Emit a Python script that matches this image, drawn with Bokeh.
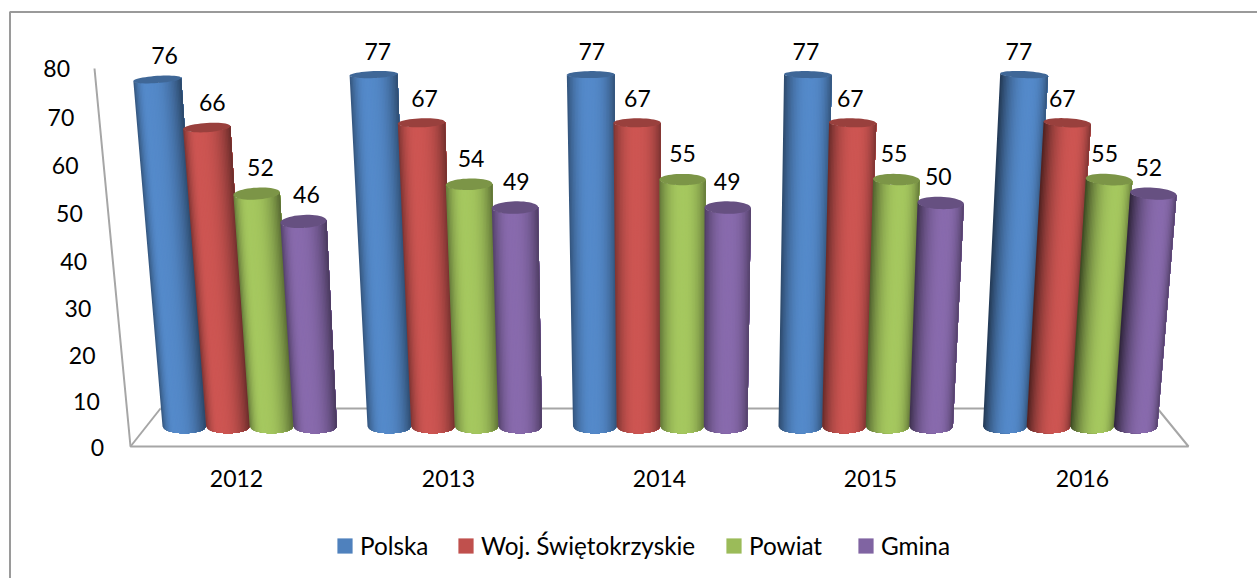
import math
from bokeh.embed import file_html
from bokeh.resources import INLINE
from bokeh.plotting import figure
from bokeh.models import ColumnDataSource, Range1d, Legend, LegendItem
from bokeh.core.properties import value

years = ["2012", "2013", "2014", "2015", "2016"]
series_names = ["Polska", "Woj. Świętokrzyskie", "Powiat", "Gmina"]
polska = [76, 77, 77, 77, 77]
woj = [66, 67, 67, 67, 67]
powiat = [52, 54, 55, 55, 55]
gmina = [46, 49, 49, 50, 52]
ticks = [0, 10, 20, 30, 40, 50, 60, 70, 80]
colors = ["#4f81bd", "#c0504d", "#9bbb59", "#8064a2"]

FONT = "Lato"
FS = "23px"
TXT = "#000000"
GRAY = "#a6a6a6"

# projection of the pseudo 3-D chart box (depth perspective)
X0 = 665.0
BASE_Y = 426.0
group_left = [162, 367, 572.5, 778, 982.5]
BAR_W = 43.6


def height(v):
    return 4.3 * v / (1 - 0.000767 * v)


def shade(hex_c, k):
    r, g, b = (int(hex_c[i:i + 2], 16) for i in (1, 3, 5))
    r, g, b = (min(255, int(c * k)) for c in (r, g, b))
    return f"#{r:02x}{g:02x}{b:02x}"


p = figure(width=1257, height=578, output_backend="svg", toolbar_location=None,
           x_range=Range1d(0, 1257), y_range=Range1d(578, 0),
           x_axis_location=None, y_axis_location=None, min_border=0,
           outline_line_color=None)
p.grid.visible = False

# chart frame (left and top edges)
p.line([9.5, 9.5, 1257], [578, 11.5, 11.5], line_color="#9a9a9a", line_width=2)

# floor and slanted value axis
p.line([94, 130, 1188, 1157, 160], [68, 446, 446, 408, 408], line_color=GRAY, line_width=2)
p.line([130, 160], [446, 408], line_color=GRAY, line_width=2)


def tick_y(v):
    return 447 - 4.56 * v / (1 - 0.00048 * v)


p.text([103.5 - 0.425 * t for t in ticks], [tick_y(t) for t in ticks],
       text=[str(t) for t in ticks], text_font=value(FONT), text_font_size=FS,
       text_align="right", text_baseline="middle", text_color=TXT)

all_vals = [polska, woj, powiat, gmina]
xs, ys, fc = [], [], []
cx, cy, ct = [], [], []
N = 32
for g in range(5):
    for s in range(4):
        v = all_vals[s][g]
        xb = group_left[g] + BAR_W * (s + 0.5)
        h = height(v)
        xt = X0 + (xb - X0) * (1 + 0.000162 * h)
        wb = BAR_W / 2
        wt = wb * (1 + 0.00028 * h)
        yt = BASE_Y - h
        ryb = 6.8
        ryt = 3.5 + 0.0207 * max(352 - h, 0)
        side = (xb - X0) / 480
        tilt = 1.6 * side
        p_peak = 0.4 * side - 0.05
        color = colors[s]
        grid = [-1 + 2 * i / N for i in range(N + 1)]
        for i in range(N):
            m = (grid[i] + grid[i + 1]) / 2
            d = m - p_peak
            if d < 0:
                dark = (0.42 + max(side, 0) * 0.3) * (-d / (1 + p_peak)) ** 2.2
            else:
                dark = (0.42 + max(-side, 0) * 0.1) * (d / (1 - p_peak)) ** 2.6
            k = 1.07 - dark
            # each slice reaches the right edge, the next one is painted over it
            rest = grid[i:]
            top_x = [xt + wt * q for q in rest]
            top_y = [yt + ryt * math.sqrt(max(1 - q * q, 0)) + tilt * q for q in rest]
            bot_x = [xb + wb * q for q in reversed(rest)]
            bot_y = [BASE_Y + ryb * math.sqrt(max(1 - q * q, 0)) for q in reversed(rest)]
            xs.append(top_x + bot_x)
            ys.append(top_y + bot_y)
            fc.append(shade(color, k))
        # top cap
        ex, ey = [], []
        for i in range(49):
            th = 2 * math.pi * i / 48
            ex.append(xt + wt * math.sin(th))
            ey.append(yt + ryt * math.cos(th) + tilt * math.sin(th))
        xs.append(ex)
        ys.append(ey)
        fc.append(shade(color, 0.8))
        # data label
        cx.append(X0 + (xb - X0) * (1 + 0.00054 * v))
        cy.append(yt - ryt - 20)
        ct.append(str(v))

src = ColumnDataSource(dict(xs=xs, ys=ys, fc=fc))
p.patches("xs", "ys", source=src, fill_color="fc", line_color=None)

p.text(cx, cy, text=ct, text_font=value(FONT), text_font_size=FS,
       text_align="center", text_baseline="middle", text_color=TXT)

# category labels
label_x = [236, 448, 659, 870, 1082]
p.text(label_x, [478] * 5, text=years, text_font=value(FONT), text_font_size=FS,
       text_align="center", text_baseline="middle", text_color=TXT)

# legend: one entry each, so that the gaps between entries can differ
nan = float("nan")
legend_x = [335, 456, 724, 856]
for name, c, lx in zip(series_names, colors, legend_x):
    r = p.quad(left=[nan], right=[nan], top=[nan], bottom=[nan], fill_color=c, line_color=None)
    leg = Legend(items=[LegendItem(label=name, renderers=[r])], orientation="horizontal",
                 location=(lx, 18), glyph_width=19, glyph_height=19, label_standoff=6,
                 padding=0, margin=0, border_line_color=None, background_fill_alpha=0,
                 label_text_font=FONT, label_text_font_size="24.3px", label_text_color=TXT)
    p.add_layout(leg)

open("out.html", "w").write(file_html(p, INLINE))
